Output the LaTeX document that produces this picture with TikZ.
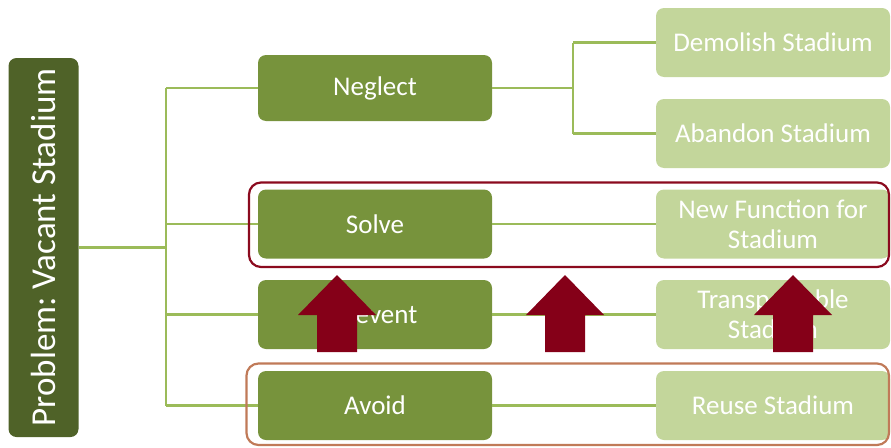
\documentclass[tikz,border=0pt]{standalone}
\usepackage{fontspec}
\setmainfont{Carlito}
\frenchspacing
\begin{document}
\begin{tikzpicture}[x=1pt,y=-1pt,
  box/.style={rounded corners=8pt, inner sep=0pt, text=white, align=center,
    minimum width=234pt, minimum height=69pt, font=\fontsize{27}{30}\selectfont},
  midbox/.style={box, fill=midgreen},
  rightbox/.style={box, fill=lightgreen},
  conn/.style={draw=linkgreen, line width=2.8pt},
  upArrow/.style={fill=arrowred, draw=none},
]
\definecolor{darkgreen}{HTML}{4F6228}
\definecolor{midgreen}{HTML}{77933C}
\definecolor{lightgreen}{HTML}{C3D69B}
\definecolor{linkgreen}{HTML}{9BBB59}
\definecolor{arrowred}{HTML}{850018}
\definecolor{solvered}{HTML}{8B0A1E}
\definecolor{avoidbrown}{HTML}{C07A58}
\useasboundingbox (0,0) rectangle (891,447);

\node[box, fill=darkgreen, minimum width=379pt, minimum height=70pt, rotate=90,
  font=\fontsize{35}{40}\selectfont] (prob) at (43.5,247.5) {Problem: Vacant Stadium};

\node[midbox, minimum height=66pt] (neglect) at (375,88) {Neglect};
\node[midbox] (solve) at (375,224) {Solve};
\node[midbox] (prevent) at (375,314.5) {Prevent};
\node[midbox] (avoid) at (375,405.5) {Avoid};

\node[rightbox] (demolish) at (773,42.5) {Demolish Stadium};
\node[rightbox] (abandon) at (773,133.5) {Abandon Stadium};
\node[rightbox] (newfn) at (773,224) {New Function for\\Stadium};
\node[rightbox] (transp) at (773,314.5) {Transportable\\Stadium};
\node[rightbox] (reuse) at (773,405.5) {Reuse Stadium};

\coordinate (t1) at (166,88);
\coordinate (t2) at (166,405.5);
\coordinate (b1) at (573,42.5);
\coordinate (b2) at (573,133.5);

\draw[conn] (t1) -- (t2);
\draw[conn] (prob.south) -- (prob.south -| t1);
\draw[conn] (t1) -- (neglect.west);
\draw[conn] (solve.west -| t1) -- (solve.west);
\draw[conn] (prevent.west -| t1) -- (prevent.west);
\draw[conn] (t2) -- (avoid.west);
\draw[conn] (neglect.east) -- (neglect.east -| b1);
\draw[conn] (b1) -- (b2);
\draw[conn] (b1) -- (demolish.west);
\draw[conn] (b2) -- (abandon.west);
\draw[conn] (solve.east) -- (newfn.west);
\draw[conn] (prevent.east) -- (transp.west);
\draw[conn] (avoid.east) -- (reuse.west);

\draw[solvered, line width=2.2pt, rounded corners=12pt] (249,182.5) rectangle (889,267);
\draw[avoidbrown, line width=2.2pt, rounded corners=12pt] (246.5,363.5) rectangle (889,445);

\foreach \cx in {337,565,793} {
  \fill[upArrow] (\cx,275) -- (\cx+39,315) -- (\cx+20,315) -- (\cx+20,352)
    -- (\cx-20,352) -- (\cx-20,315) -- (\cx-39,315) -- cycle;
}
\end{tikzpicture}
\end{document}
